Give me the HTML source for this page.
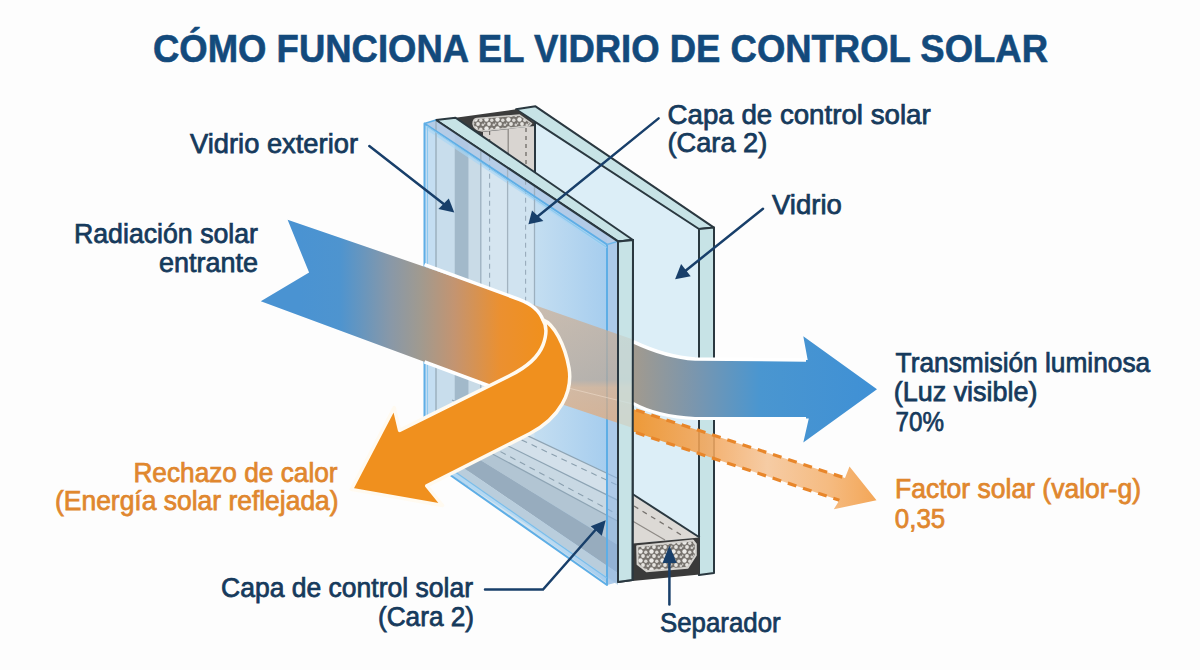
<!DOCTYPE html>
<html><head><meta charset="utf-8">
<style>
html,body{margin:0;padding:0;background:#fdfdfd;}
body{width:1200px;height:670px;overflow:hidden;position:relative;}
svg{position:absolute;left:0;top:0;}
text{font-family:"Liberation Sans",sans-serif;}
.t{font-size:27px;fill:#163a5c;stroke:#163a5c;stroke-width:0.75px;}
.o{font-size:27px;fill:#e0872e;stroke:#e0872e;stroke-width:0.75px;}
</style></head><body>
<svg width="1200" height="670" viewBox="0 0 1200 670">
<defs>
<linearGradient id="gIn" gradientUnits="userSpaceOnUse" x1="300" y1="0" x2="540" y2="0">
<stop offset="0" stop-color="#4a93d2"/><stop offset="0.167" stop-color="#4e94cf"/><stop offset="0.375" stop-color="#8898a8"/><stop offset="0.5" stop-color="#a09a90"/><stop offset="0.646" stop-color="#c49470"/><stop offset="0.833" stop-color="#eb9030"/><stop offset="1" stop-color="#f0901e"/>
</linearGradient>
<linearGradient id="gOut" gradientUnits="userSpaceOnUse" x1="633" y1="0" x2="877" y2="0">
<stop offset="0" stop-color="#a29a8e"/><stop offset="0.254" stop-color="#7a96ae"/><stop offset="0.52" stop-color="#4a96d0"/><stop offset="1" stop-color="#3f90d5"/>
</linearGradient>
<linearGradient id="gDash" gradientUnits="userSpaceOnUse" x1="633" y1="0" x2="877" y2="0">
<stop offset="0" stop-color="#f08e1e"/><stop offset="0.3" stop-color="#f2a55a"/><stop offset="0.55" stop-color="#f5c598"/><stop offset="0.8" stop-color="#f4b270"/><stop offset="1" stop-color="#f29a40"/>
</linearGradient>
<linearGradient id="gFace" gradientUnits="userSpaceOnUse" x1="534" y1="0" x2="607" y2="0">
<stop offset="0" stop-color="#c4def1"/><stop offset="1" stop-color="#a6cdee"/>
</linearGradient>
<linearGradient id="gTan" gradientUnits="userSpaceOnUse" x1="0" y1="305" x2="0" y2="430">
<stop offset="0" stop-color="#cdb29a"/><stop offset="0.6" stop-color="#b9a898"/><stop offset="0.66" stop-color="#dcb08a"/><stop offset="1" stop-color="#e2a878"/>
</linearGradient>
<pattern id="perf" width="11" height="9" patternUnits="userSpaceOnUse">
<rect width="11" height="9" fill="#77736e"/><circle cx="2.5" cy="2.5" r="2.2" fill="#ecebe8"/><circle cx="7.8" cy="3.2" r="1.7" fill="#dddbd7"/><circle cx="5" cy="7" r="1.9" fill="#e6e4e0"/><circle cx="9.8" cy="7.8" r="1.3" fill="#d2d0cc"/><circle cx="0.5" cy="6.5" r="1" fill="#c8c6c2"/>
</pattern>
</defs>
<polygon points="516,109.3 699,229 699,576 520,460" fill="#dceef7"/>
<polygon points="516,109.3 535.5,106.3 714,227.6 699,229" fill="#c7e3e6" stroke="#2a3840" stroke-width="2" stroke-linejoin="round"/>
<polygon points="699,229 714,227.6 714,573 699,575" fill="#c7e3e6" stroke="#2a3840" stroke-width="2" stroke-linejoin="round"/>
<polygon points="632.5,494 699.7,537.5 632.5,543.5" fill="#dcd9d5"/>
<line x1="632.5" y1="521" x2="665" y2="540" stroke="#8e8a86" stroke-width="1.2"/>
<line x1="634" y1="506" x2="683" y2="536" stroke="#77736f" stroke-width="1.3" stroke-dasharray="5 5"/>
<line x1="632.5" y1="494" x2="699.7" y2="537.5" stroke="#2a3840" stroke-width="2"/>
<polygon points="632.5,543.5 699.7,537.5 699.7,574.5 632.5,581" fill="#3a3a3a"/>
<polygon points="637.2,546.2 693,540.5 695.8,544 695.8,555.2 687.7,567.7 646.6,571.3 637.6,564.2" fill="url(#perf)" stroke="#d4d2ce" stroke-width="2" stroke-linejoin="round"/>
<polygon points="483,132 535,126 535,172.5 483,136.6" fill="#d9d5d1"/>
<polygon points="455.5,117.7 516,109.3 534.5,122.5 535,126 483,132 483,136.6" fill="#3c3c3c"/>
<path d="M473,124 Q473,119 477,118.5 L519.5,115 L531.5,123.5 L529,126 L482,131 Q474,130 473,124 Z" fill="url(#perf)" stroke="#cfcdc9" stroke-width="1.5" stroke-linejoin="round"/>
<line x1="535" y1="122" x2="535" y2="172.5" stroke="#2a3840" stroke-width="2"/>
<line x1="508.2" y1="129" x2="508.2" y2="154" stroke="#8e8a86" stroke-width="1.3"/>
<line x1="526" y1="128" x2="526" y2="166.3" stroke="#6e6a66" stroke-width="1.3" stroke-dasharray="4 4"/>
<line x1="489.6" y1="131" x2="489.6" y2="141.2" stroke="#6e6a66" stroke-width="1.2" stroke-dasharray="4 4"/>
<polygon points="436,120 455.5,117.7 633,240 618,241.4" fill="#c7e3e6" stroke="#2a3840" stroke-width="2" stroke-linejoin="round"/>
<polygon points="618,241.4 633,240 632.5,580 618,582" fill="#c7e3e6" stroke="#2a3840" stroke-width="2" stroke-linejoin="round"/>
<polygon points="424.5,123.5 436,120 618,241.4 618,582 607,585 424.5,457" fill="#cfe1ed"/>
<polygon points="424.5,123.5 436,120 436,463.5 424.5,455.5" fill="#c4def2"/>
<polygon points="436,120 454.7,132.5 454.7,476.6 436,463.5" fill="#c8ddec"/>
<polygon points="454.7,132.5 468.7,141.8 468.7,486.4 454.7,476.6" fill="#a2b9ca"/>
<polygon points="468.7,141.8 480.8,149.9 480.8,494.8 468.7,486.4" fill="#c9dbe7"/>
<polygon points="480.8,149.9 507.6,167.7 507.6,513.6 480.8,494.8" fill="#d5e5f0"/>
<polygon points="507.6,167.7 534.5,185.7 534.5,532.3 507.6,513.6" fill="#d0e3f0"/>
<polygon points="534.5,185.7 607,234 607,583 534.5,532.3" fill="url(#gFace)"/>
<polygon points="424.5,123.5 436,120 618,241.4 607,244.5" fill="#b3cae6" fill-opacity="0.9"/>
<polygon points="424.5,124.5 607,245.5 607,249.5 424.5,128.5" fill="#a9d5f3" fill-opacity="0.7"/>
<line x1="436" y1="120" x2="436" y2="423.5" stroke="#9cb0bf" stroke-width="1.5"/>
<line x1="480.8" y1="149.9" x2="480.8" y2="426" stroke="#9cb0bf" stroke-width="1.3"/>
<line x1="507.6" y1="167.7" x2="507.6" y2="426" stroke="#a2b3c0" stroke-width="1.3"/>
<line x1="534.5" y1="185.7" x2="534.5" y2="426" stroke="#9cb0bf" stroke-width="1.3"/>
<line x1="489.6" y1="155.7" x2="489.6" y2="426" stroke="#98abba" stroke-width="1.1" stroke-dasharray="5 4"/>
<line x1="525.6" y1="179.7" x2="525.6" y2="426" stroke="#98abba" stroke-width="1.1" stroke-dasharray="5 4"/>
<polygon points="452,400 618,478.5 618,500.4 452,418.2" fill="#d3e0ea"/>
<polygon points="452,418.2 618,500.4 618,521.3 452,432.2" fill="#c8d8e3"/>
<polygon points="452,432.2 618,521.3 618,545.1 452,442.5" fill="#b2c5d3"/>
<polygon points="452,442.5 618,545.1 618,573.3 452,460.1" fill="#97acbe"/>
<polygon points="452,460.1 618,573.3 618,584.4 452,469.7" fill="#b9cddc"/>
<polygon points="452,469.7 618,584.4 618,585 424.5,457" fill="#b4d8f2"/>
<line x1="452" y1="400" x2="618" y2="478.5" stroke="#8ea4b4" stroke-width="1.2"/>
<line x1="452" y1="418.2" x2="618" y2="500.4" stroke="#8ea4b4" stroke-width="1.2"/>
<line x1="452" y1="432.2" x2="618" y2="521.3" stroke="#8ea4b4" stroke-width="1.2"/>
<line x1="452" y1="407" x2="618" y2="485.5" stroke="#8a9fae" stroke-width="1.1" stroke-dasharray="6 5"/>
<line x1="452" y1="425.6" x2="618" y2="514.7" stroke="#8a9fae" stroke-width="1.1" stroke-dasharray="6 5"/>
<polygon points="607,244.5 618,241.4 618,582 607,585" fill="#8fb8e6" fill-opacity="0.55"/>
<polyline points="424.5,470 424.5,123.5 607,244.5 607,585 424.5,457" fill="none" stroke="#5eaee6" stroke-width="2" stroke-linejoin="round"/>
<line x1="424.5" y1="450.5" x2="607" y2="578" stroke="#7bbde9" stroke-width="1.2"/>
<line x1="607" y1="244.5" x2="618" y2="241.4" stroke="#6db6ea" stroke-width="1.5"/>
<polyline points="427.5,470 427.5,126.5 607,247.5" fill="none" stroke="#8cc8ee" stroke-width="1.1"/>
<line x1="424.5" y1="123.5" x2="436" y2="120" stroke="#5eaee6" stroke-width="1.8"/>
<line x1="436" y1="120" x2="618" y2="241.4" stroke="#2a3840" stroke-width="2"/>
<line x1="618" y1="241.4" x2="618" y2="582" stroke="#2a3840" stroke-width="2"/>
<polygon points="530,303.5 633,339.5 633,428 540,397" fill="url(#gTan)" fill-opacity="0.75"/>
<line x1="560" y1="386" x2="633" y2="404" stroke="#f3e3d3" stroke-width="1" stroke-opacity="0.5"/>
<path d="M287.6,219.7 L519,299.3 C532,304 540,312 543,320 C547,330 547,342 540,352 L510,393.5 L260.8,301.3 L309.1,272.6 Z" fill="url(#gIn)"/>
<path d="M424.5,264.7 L519,299.3 C532,304 540,312 543,320" fill="none" stroke="#fff" stroke-width="3.5"/>
<path d="M424.5,361.8 L492,387" fill="none" stroke="#fff" stroke-width="3.5"/>
<path d="M543,320 C554,324 565,345 569,368 C573,392 560,418 530,433.5 L426.8,485.9 L442.6,505.5 L351.4,489.4 L394.2,407.6 L399.6,430.4 L510,375.5 C525,368 538,358 543,345 C547,334 547,326 543,320 Z" fill="#f0901e" stroke="#fffaf0" stroke-width="3.5" stroke-linejoin="round"/>
<path d="M633,341.7 C655,352 675,358 695,359 L807.7,360 L803.3,336.3 L877,389.3 L803.3,442.4 L808.8,418.6 L695,418.6 C665,417 645,410 633,403.4 Z" fill="url(#gOut)"/>
<path d="M633,341.7 C655,352 675,358 695,359 L806,360" fill="none" stroke="#fff" stroke-width="3.5"/>
<path d="M633,403.4 C645,410 665,417 695,418.6 L806,418.6" fill="none" stroke="#fff" stroke-width="3"/>
<path d="M633,409 L845,478 L849.5,466.5 L876.5,500.3 L833.8,509.3 L839.4,500.3 L633,431.6 Z" fill="url(#gDash)" fill-opacity="0.88"/>
<path d="M636,410 L845,478 M636,432.6 L839.4,500.3" stroke="#e8862a" stroke-width="3.2" stroke-dasharray="9 7" fill="none"/>
<polygon points="618,241.4 633,240 632.5,580 618,582" fill="#c7e3e6" fill-opacity="0.7" stroke="#2a3840" stroke-width="2" stroke-linejoin="round"/>
<g stroke="#183f6a" stroke-width="2.5" fill="none" stroke-linecap="round">
<line x1="369.3" y1="146.1" x2="445" y2="205"/>
<line x1="658.6" y1="118.4" x2="537" y2="217"/>
<line x1="763" y1="208.7" x2="684" y2="272"/>
<polyline points="485,589.5 543,589.5 598,527"/>
<line x1="669.4" y1="604.5" x2="669.4" y2="560"/>
</g>
<g fill="#183f6a">
<polygon points="454.3,212.4 438.4,209.1 448.8,198.4"/>
<polygon points="528.4,224.2 532,210.6 543.4,221"/>
<polygon points="675.1,279.3 681.1,264 690.7,276.3"/>
<polygon points="605.7,520.2 590.7,526.2 601.8,535.7"/>
<polygon points="669.4,545.4 662.5,563 676.8,563"/>
</g>
<!-- ===== TEXT ===== -->
<text x="153.0" y="61.6" textLength="895.0" lengthAdjust="spacingAndGlyphs" style="font-size:38.5px;font-weight:bold;fill:#134a7c;stroke:#134a7c;stroke-width:0.6px">CÓMO FUNCIONA EL VIDRIO DE CONTROL SOLAR</text>
<text class="t" x="190.0" y="153" textLength="168.0" lengthAdjust="spacingAndGlyphs">Vidrio exterior</text>
<text class="t" x="667.5" y="124" textLength="263.2" lengthAdjust="spacingAndGlyphs">Capa de control solar</text>
<text class="t" x="667.5" y="152" textLength="99.8" lengthAdjust="spacingAndGlyphs">(Cara 2)</text>
<text class="t" x="772.0" y="213.8" textLength="69.8" lengthAdjust="spacingAndGlyphs">Vidrio</text>
<text class="t" x="74.0" y="243" textLength="184.0" lengthAdjust="spacingAndGlyphs">Radiación solar</text>
<text class="t" x="159.0" y="272" textLength="99.0" lengthAdjust="spacingAndGlyphs">entrante</text>
<text class="t" x="895.6" y="372.2" textLength="254.6" lengthAdjust="spacingAndGlyphs">Transmisión luminosa</text>
<text class="t" x="893.8" y="401.2" textLength="143.6" lengthAdjust="spacingAndGlyphs">(Luz visible)</text>
<text class="t" x="895.6" y="431" textLength="48.4" lengthAdjust="spacingAndGlyphs">70%</text>
<text class="o" x="133.4" y="482" textLength="204.2" lengthAdjust="spacingAndGlyphs">Rechazo de calor</text>
<text class="o" x="55.0" y="510" textLength="283.6" lengthAdjust="spacingAndGlyphs">(Energía solar reflejada)</text>
<text class="o" x="895.0" y="498.2" textLength="246.0" lengthAdjust="spacingAndGlyphs">Factor solar (valor-g)</text>
<text class="o" x="894.8" y="528" textLength="50.4" lengthAdjust="spacingAndGlyphs">0,35</text>
<text class="t" x="221.0" y="597" textLength="252.0" lengthAdjust="spacingAndGlyphs">Capa de control solar</text>
<text class="t" x="378.0" y="626" textLength="96.0" lengthAdjust="spacingAndGlyphs">(Cara 2)</text>
<text class="t" x="660.0" y="631.5" textLength="120.6" lengthAdjust="spacingAndGlyphs">Separador</text>
</svg>
</body></html>
